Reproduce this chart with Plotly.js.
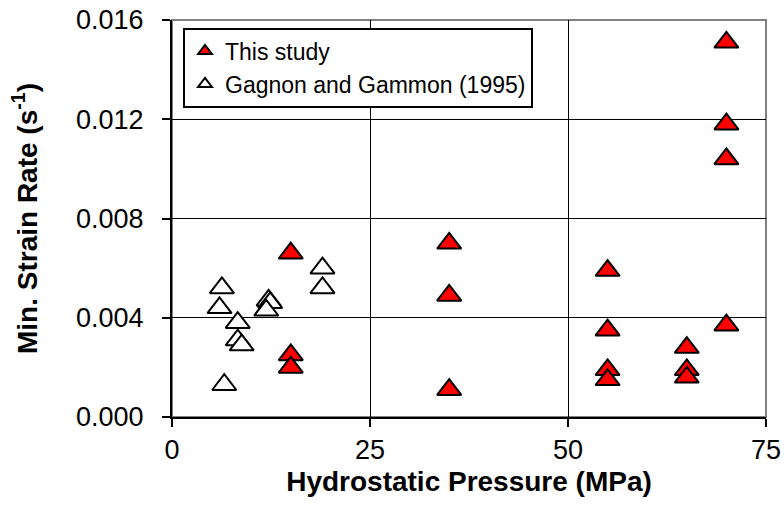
<!DOCTYPE html>
<html>
<head>
<meta charset="utf-8">
<script src="https://cdn.plot.ly/plotly-3.0.1.min.js"></script>
<style>html,body{margin:0;padding:0;background:#fff;}#chart{width:784px;height:516px;}</style>
</head>
<body>
<div id="chart"></div>
<script>
// This study
var studyPressure = [15, 15, 15, 35, 35, 35, 55, 55, 55, 55, 65, 65, 65, 70, 70, 70, 70];
var studyRate = [0.0066, 0.0025, 0.0020, 0.0070, 0.0049, 0.0011, 0.0059, 0.0035, 0.0019, 0.0015, 0.0028, 0.0019, 0.0016, 0.0151, 0.0118, 0.0104, 0.0037];
// Gagnon and Gammon (1995)
var gagnonPressure = [6.3, 6.0, 6.6, 8.3, 8.3, 8.8, 12.2, 12.4, 11.9, 19.0, 19.0];
var gagnonRate = [0.0052, 0.0044, 0.0013, 0.0038, 0.0031, 0.0029, 0.0047, 0.0046, 0.0043, 0.0060, 0.0052];
var seriesNames = ['This study', 'Gagnon and Gammon (1995)'];
var xTicks = [0, 25, 50, 75];
var yTicks = [0, 0.004, 0.008, 0.012, 0.016];

var FONT = 'Liberation Sans, Arial, sans-serif';

var traces = [
  {
    x: gagnonPressure, y: gagnonRate, name: seriesNames[1], type: 'scatter', mode: 'markers',
    marker: {symbol: 'triangle-up', size: 21, color: '#ffffff', line: {color: '#000000', width: 2}},
    showlegend: true, legendrank: 2
  },
  {
    x: studyPressure, y: studyRate, name: seriesNames[0], type: 'scatter', mode: 'markers',
    marker: {symbol: 'triangle-up', size: 21, color: '#ff0000', line: {color: '#000000', width: 2}},
    showlegend: true, legendrank: 1
  }
];

var layout = {
  width: 784, height: 516,
  margin: {l: 172, r: 18, t: 20, b: 99},
  paper_bgcolor: '#ffffff', plot_bgcolor: '#ffffff',
  font: {family: FONT, size: 27, color: '#000000'},
  showlegend: true,
  legend: {
    x: 0.0185, y: 0.981, xanchor: 'left', yanchor: 'top',
    bgcolor: '#ffffff', bordercolor: '#000000', borderwidth: 2,
    font: {family: FONT, size: 23, color: '#000000'},
    itemsizing: 'constant', itemwidth: 30, traceorder: 'normal'
  },
  xaxis: {
    range: [0, 75], tickvals: xTicks, ticktext: xTicks.map(String),
    showgrid: true, gridcolor: '#000000', gridwidth: 1,
    zeroline: false, showline: true, linecolor: '#000000', linewidth: 2,
    ticks: 'outside', ticklen: 8, tickwidth: 2, tickcolor: '#000000',
    tickfont: {family: FONT, size: 27},
    title: {text: '<b>Hydrostatic Pressure (MPa)</b>', font: {family: FONT, size: 28}, standoff: 7},
    fixedrange: true
  },
  yaxis: {
    range: [0, 0.016], tickvals: yTicks, tickformat: '.3f',
    showgrid: true, gridcolor: '#000000', gridwidth: 1,
    zeroline: false, showline: true, linecolor: '#000000', linewidth: 2,
    ticks: 'outside', ticklen: 8, tickwidth: 2, tickcolor: '#000000',
    ticklabelstandoff: 13,
    tickfont: {family: FONT, size: 27},
    title: {text: '<b>Min. Strain Rate (s<sup>-1</sup>)</b>', font: {family: FONT, size: 28}, standoff: 30},
    fixedrange: true
  },
  shapes: [
    {type: 'rect', xref: 'paper', yref: 'paper', x0: 0, x1: 1, y0: 0, y1: 1,
     line: {color: '#808080', width: 2}, layer: 'below'}
  ]
};

Plotly.newPlot('chart', traces, layout, {displayModeBar: false, staticPlot: true});
</script>
</body>
</html>
